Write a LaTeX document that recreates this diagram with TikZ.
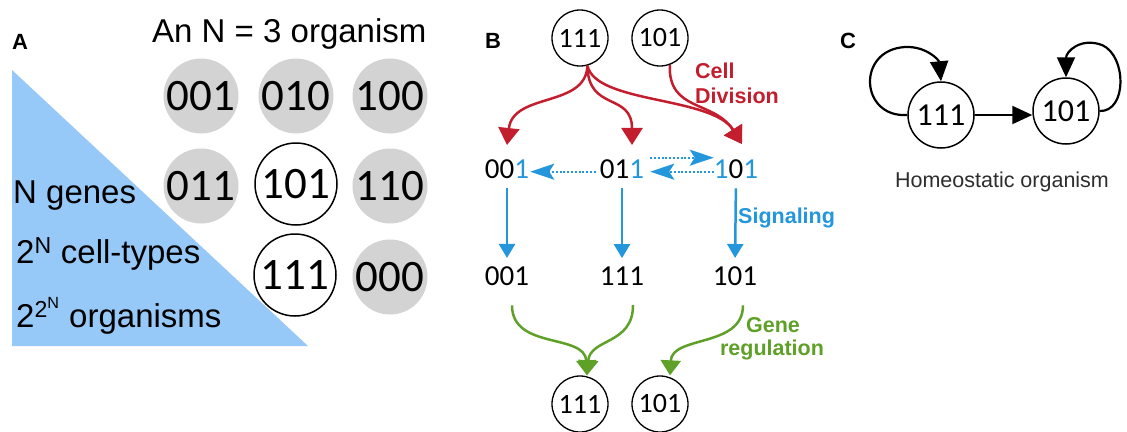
\documentclass[tikz,border=0pt]{standalone}
\usepackage{fontspec}
\setmainfont{Liberation Sans}
\newfontfamily\digf{Carlito}
\usetikzlibrary{arrows.meta}
\definecolor{tri}{RGB}{150,200,248}
\definecolor{cgray}{RGB}{211,211,211}
\definecolor{dred}{RGB}{195,30,45}
\definecolor{sblue}{RGB}{35,150,220}
\definecolor{ggreen}{RGB}{95,160,40}
\definecolor{txtgray}{RGB}{45,45,45}
\begin{document}
\begin{tikzpicture}[x=1pt,y=-1pt,
  graycell/.style={circle,fill=cgray,minimum size=75pt,inner sep=0pt,font=\digf\fontsize{45}{45}\selectfont},
  orgcell/.style={circle,draw=black,line width=1.5pt,fill=white,minimum size=82pt,inner sep=0pt,font=\digf\fontsize{45}{45}\selectfont},
  smallorg/.style={circle,draw=black,line width=1.3pt,minimum size=56pt,inner sep=0pt,font=\digf\fontsize{28}{28}\selectfont},
  homeorg/.style={circle,draw=black,line width=1.5pt,minimum size=66pt,inner sep=0pt,font=\digf\fontsize{32}{32}\selectfont},
  celltxt/.style={inner sep=0pt,anchor=base,font=\digf\fontsize{29}{29}\selectfont},
  panellbl/.style={inner sep=0pt,anchor=base west,font=\bfseries\fontsize{22}{22}\selectfont},
  bigtxt/.style={inner sep=0pt,anchor=base west,font=\fontsize{33}{36}\selectfont},
  proclbl/.style={inner sep=0pt,anchor=base west,font=\bfseries\fontsize{21.5}{25}\selectfont},
  redarr/.style={draw=dred,line width=2.5pt,-{Triangle[width=21pt,length=17pt]}},
  bluearr/.style={draw=sblue,line width=2.5pt,-{Triangle[width=16pt,length=14pt]}},
  bluedot/.style={draw=sblue,line width=2pt,dash pattern=on 2pt off 1.8pt,-{Stealth[length=24pt,width=16pt,inset=5pt]}},
  greenarr/.style={draw=ggreen,line width=2.5pt,-{Triangle[width=20pt,length=15pt]}},
  blackarr/.style={draw=black,line width=2.2pt,-{Triangle[width=18pt,length=20pt]}}
]
\useasboundingbox (0,0) rectangle (1127,431);

% ---------------- Panel A ----------------
\node[panellbl] (lblA) at (12,49) {A};
\fill[tri] (12,70) -- (12,346) -- (308,346) -- cycle;
\node[bigtxt] (titleA) at (152,42) {An N = 3 organism};
\node[bigtxt] (ngenes) at (13,203) {N genes};
\node[bigtxt] (ctypes) at (16,263) {2\textsuperscript{N} cell-types};
\node[bigtxt] (norgs) at (16,327) {2\textsuperscript{2\textsuperscript{N}} organisms};

\node[graycell] (g001) at (201,96) {001};
\node[graycell] (g010) at (296,96) {010};
\node[graycell] (g100) at (390,96) {100};
\node[graycell] (g011) at (201,186) {011};
\node[orgcell]  (g101) at (296,184) {101};
\node[graycell] (g110) at (390,186) {110};
\node[orgcell]  (g111) at (295,275) {111};
\node[graycell] (g000) at (390,277) {000};

% ---------------- Panel B ----------------
\node[panellbl] (lblB) at (485,48) {B};
\node[smallorg] (t111) at (580,38) {111};
\node[smallorg] (t101) at (660,38) {101};

\node[celltxt] (r1a) at (507,178) {00\textcolor{sblue}{1}};
\node[celltxt] (r1b) at (622,178) {01\textcolor{sblue}{1}};
\node[celltxt] (r1c) at (736,178) {\textcolor{sblue}{1}0\textcolor{sblue}{1}};

\node[celltxt] (r2a) at (507,285) {001};
\node[celltxt] (r2b) at (622,285) {111};
\node[celltxt] (r2c) at (735,285) {101};

\node[smallorg] (b111) at (580,404) {111};
\node[smallorg] (b101) at (660,404) {101};

\node[proclbl,text=dred] (cellw) at (695,78) {Cell};
\node[proclbl,text=dred] (divw) at (695,103) {Division};
\node[proclbl,text=sblue] (sigw) at (738,223) {Signaling};
\node[proclbl,text=ggreen,anchor=base] (genew) at (773,332) {Gene};
\node[proclbl,text=ggreen,anchor=base] (regw) at (772,355) {regulation};

% cell division
\draw[redarr] (t111.-75) .. controls (586,108) and (513,92) .. ([yshift=14pt]r1a.north);
\draw[redarr] (t111.-75) .. controls (588,112) and (632,92) .. ([xshift=10pt,yshift=14pt]r1b.north);
\draw[redarr] (t111.-75) .. controls (596,104) and (712,96) .. ([xshift=6pt,yshift=15pt]r1c.north);
\draw[redarr] (t101.-70) .. controls (668,112) and (714,100) .. ([xshift=6pt,yshift=15pt]r1c.north);

% signaling
\draw[bluedot] ([xshift=-4pt,yshift=-3pt]r1b.west) -- ([xshift=1pt,yshift=-3pt]r1a.east);
\draw[bluedot] ([yshift=-3pt]r1c.west) -- ([xshift=6pt,yshift=-3pt]r1b.east);
\draw[bluedot] ([xshift=6pt,yshift=11pt]r1b.east) -- ([yshift=11pt]r1c.west);
\draw[bluearr,shorten <=10pt,shorten >=8pt] (r1a.south) -- (r2a.north);
\draw[bluearr,shorten <=10pt,shorten >=8pt] (r1b.south) -- (r2b.north);
\draw[bluearr,shorten <=10pt,shorten >=8pt] (r1c.south) -- (r2c.north);

% gene regulation
\draw[greenarr] ([xshift=5pt,yshift=-20pt]r2a.south) .. controls (512,350) and (585,333) .. ([xshift=7pt]b111.north);
\draw[greenarr] ([xshift=11pt,yshift=-20pt]r2b.south) .. controls (633,345) and (590,338) .. ([xshift=7pt]b111.north);
\draw[greenarr] ([xshift=8pt,yshift=-20pt]r2c.south) .. controls (743,348) and (672,335) .. ([xshift=10pt]b101.north);

% ---------------- Panel C ----------------
\node[panellbl] (lblC) at (840,48) {C};
\node[homeorg] (c111) at (941,115) {111};
\node[homeorg] (c101) at (1066,111) {101};
\draw[blackarr] (c111.east) -- (c101.west |- c111.east);
\draw[blackarr] (c111.west) .. controls (860,118) and (856,50) .. (905,47) .. controls (926,46) and (939,60) .. (c111.north);
\draw[blackarr] (c101.east) .. controls (1127,112) and (1127,56) .. (1102,45) .. controls (1080,37) and (1066,52) .. (c101.north);
\node[inner sep=0pt,anchor=base,text=txtgray,font=\fontsize{21.5}{24}\selectfont] (homeo) at (1002,187) {Homeostatic organism};
\end{tikzpicture}
\end{document}
